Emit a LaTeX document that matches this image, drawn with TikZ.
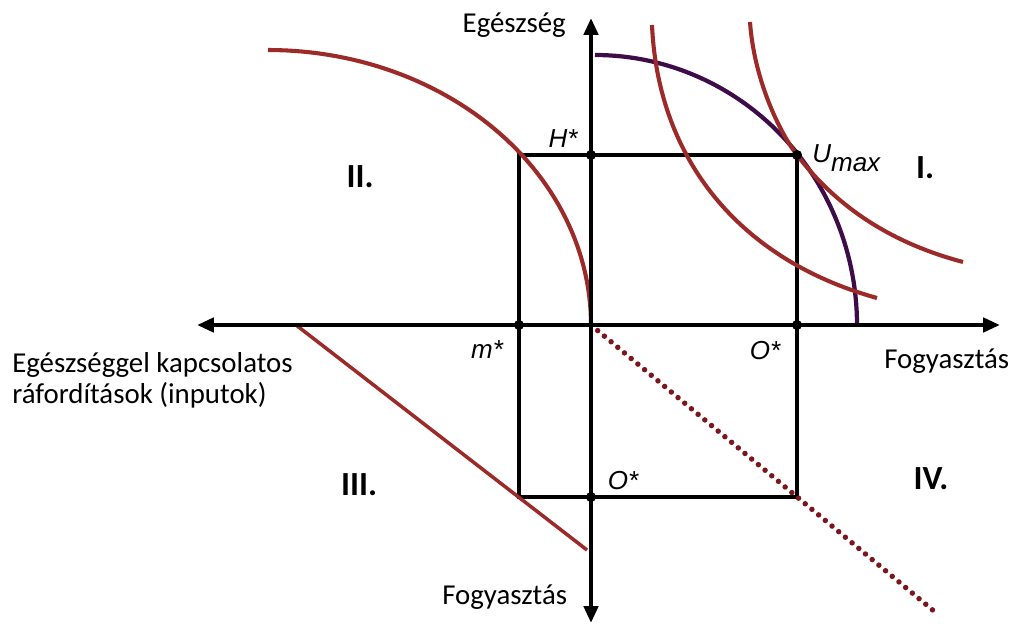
\documentclass[tikz,border=0pt]{standalone}
\usepackage{fontspec}
\setmainfont{Carlito}
\newfontfamily\starfont{Liberation Sans}
\usetikzlibrary{arrows.meta}
\definecolor{brick}{RGB}{155,42,40}
\definecolor{plum}{RGB}{62,12,72}
\definecolor{dotred}{RGB}{122,22,28}
\tikzset{
  axis/.style={line width=3.3pt,{Triangle[length=12pt,width=10pt]}-{Triangle[length=12pt,width=10pt]}},
  guide/.style={line width=2.4pt},
  curve/.style={brick,line width=2.9pt},
  lab/.style={font=\starfont\itshape\fontsize{18.5}{20}\selectfont,inner sep=0pt},
  quad/.style={font=\bfseries\fontsize{24}{26}\selectfont,inner sep=0pt},
  txt/.style={font=\fontsize{20.5}{24}\selectfont,inner sep=0pt}
}
\begin{document}
\begin{tikzpicture}[x=0.025cm,y=-0.025cm]
  \useasboundingbox (0,0) rectangle (1010,628);
  % points of the optimum
  \coordinate (o) at (591,325);
  \coordinate (hs) at (591,155);
  \coordinate (um) at (797,155);
  \coordinate (ms) at (519,325);
  \coordinate (os) at (797,325);
  \coordinate (oy) at (591,497);
  \coordinate (tl) at (519,155);
  \coordinate (br) at (797,497);
  \coordinate (c3a) at (296,325);
  \coordinate (c3b) at (587,550);
  \coordinate (d4) at (935,612);
  % the box
  \draw[guide] (tl) rectangle (br);
  % quadrant III and IV
  \draw[brick,line width=2.5pt] (c3a)--(c3b);
  \draw[dotred,line width=3.9pt,line cap=round,dash pattern=on 0pt off 6.2pt] (o)--(d4);
  % quadrant II
  \draw[curve] plot[domain=90:0,samples=60] ({268+323*cos(\x)},{325-275*sin(\x)});
  % quadrant I
  \draw[plum,line width=3pt] plot[domain=90:0,samples=60] ({595+262*cos(\x)},{325-270*sin(\x)});
  \draw[curve] (652,25) .. controls (658,160) and (740,260) .. (877,298);
  \draw[curve] (750,22) .. controls (754,80) and (780,133) .. (um)
    .. controls (830,198) and (880,240) .. (963,262);
  % axes
  \draw[axis] (197,325)--(1000,325);
  \draw[axis] (591,623)--(591,18);
  \foreach \p in {hs,um,ms,os,oy}
    \fill (\p) circle (3.6pt);
  % labels
  \node[lab] (lH) at (563,139) {H*};
  \node[lab,anchor=base west] (lU) at (812,163) {U\raisebox{-6pt}{max}};
  \node[lab] (lm) at (487,350) {m*};
  \node[lab] (lO1) at (765,351) {O*};
  \node[lab] (lO2) at (623,481) {O*};
  \node[quad] (q1) at (925,168) {I.};
  \node[quad] (q2) at (360,177) {II.};
  \node[quad] (q3) at (359,485) {III.};
  \node[quad] (q4) at (931,479) {IV.};
  \node[txt,anchor=base east] (ty) at (566,33) {Egészség};
  \node[txt,anchor=base west] (tx) at (884,368) {Fogyasztás};
  \node[txt,anchor=base west] (tyb) at (442,604) {Fogyasztás};
  \node[txt,anchor=base west] (tin1) at (12,372) {Egészséggel kapcsolatos};
  \node[txt,anchor=base west] (tin2) at (12,403) {ráfordítások (inputok)};
\end{tikzpicture}
\end{document}
